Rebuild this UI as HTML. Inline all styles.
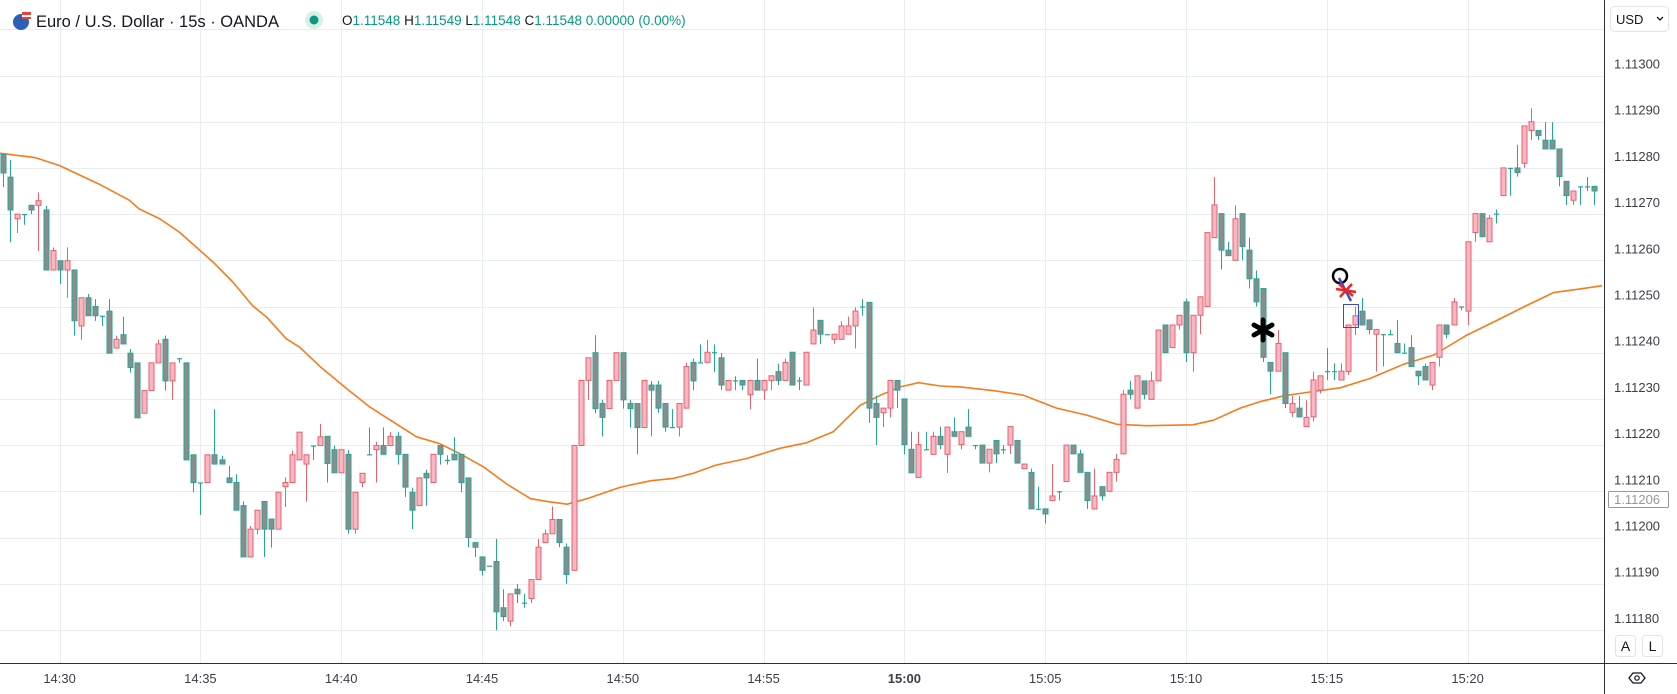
<!DOCTYPE html>
<html><head><meta charset="utf-8"><style>
html,body{margin:0;padding:0;background:#fff;overflow:hidden}
svg{display:block;font-family:"Liberation Sans",sans-serif}
</style></head><body>
<svg id="chart" width="1677" height="694" viewBox="0 0 1677 694" xmlns="http://www.w3.org/2000/svg">
<g id="grid"></g>
<g id="ma"></g>
<g id="candles"></g>
<g id="marks">
  <circle cx="1340" cy="276" r="7" fill="none" stroke="#000" stroke-width="2.5"/>
  <line x1="1339" y1="278" x2="1351" y2="301" stroke="#3f4bc4" stroke-width="2.5"/>
  <g stroke="#e8262c" stroke-width="2.5"><line x1="1339" y1="284" x2="1353" y2="296"/><line x1="1352" y1="284" x2="1340" y2="297"/><line x1="1336" y1="289" x2="1356" y2="292"/></g>
  <rect x="1343.5" y="304.5" width="15" height="23" fill="none" stroke="#3f4bc4" stroke-width="1"/>
  <g stroke="#000" stroke-width="5" stroke-linecap="round"><line x1="1263" y1="320" x2="1263" y2="340"/><line x1="1254" y1="325" x2="1272" y2="335"/><line x1="1272" y1="325" x2="1254" y2="335"/></g>
</g>
<g id="axes"></g>
<g>
  <circle cx="21" cy="22" r="8" fill="#2c5fb8"/>
  <rect x="22" y="12" width="9" height="3" fill="#e8403a"/><rect x="22" y="15" width="9" height="2" fill="#fff"/><rect x="22" y="17" width="9" height="2" fill="#e8403a"/>
  <text x="36" y="27" font-size="16.5" fill="#131722">Euro / U.S. Dollar · 15s · OANDA</text>
  <circle cx="314" cy="20" r="9" fill="#d9f0ea"/>
  <circle cx="314" cy="20" r="4.5" fill="#089981"/>
  <text x="342" y="25" font-size="13.5" fill="#089981"><tspan fill="#131722">O</tspan>1.11548 <tspan fill="#131722">H</tspan>1.11549 <tspan fill="#131722">L</tspan>1.11548 <tspan fill="#131722">C</tspan>1.11548 0.00000 (0.00%)</text>
</g>
</svg>
<script>
// prices in points (1e-5) above 1.11000; bars every 15s, bar index 0 = 14:30:00
const firstIndex = -8;
const opens = [282.9,278.0,269.0,270,271.9,271.9,270.9,257.9,259.9,257.9,257.9,245.8,251.9,250.0,248,249.0,241,243.9,239.9,237.8,226.9,231.8,237.8,242.9,233.9,238.8,237.8,217.9,211.9,211.9,217.9,216.8,212.9,211.9,206.9,195.8,201.8,207.8,204,201.8,211.0,211.9,216.8,215.9,219.9,219.9,221.9,219.0,214,218.0,201.8,211.9,218,219.0,219.9,219.9,221.9,218.0,209.8,206.9,213.9,211.9,219.9,216.8,218.0,218.0,212.9,198.9,195.8,193.9,194.8,184.8,181.9,188.8,185.9,186.8,190.9,198.9,200.8,203.9,197.9,192.9,219.9,234.0,240.0,229.0,227.9,234.0,240.0,229.0,229.0,223.8,233.0,233.0,229.0,223.9,223.9,228.0,237.9,237.9,237.9,240.1,238.9,231.9,234.0,234.0,230.9,234.0,231.9,234.0,235.9,234.0,240.1,234.0,233.0,241.9,247.0,244,242.9,242.9,244.0,245.8,250,250.9,229.0,227.0,228.0,234.0,230.0,219.1,213.0,219.1,218.0,221.9,218.0,222.9,220.1,223.9,220.0,220.0,216.1,221.0,219.1,220.0,221.0,214.9,214.1,206.2,206.2,208.0,210.0,212.1,220.0,218.1,214.1,206.2,211.0,210.0,214.1,218.1,231.9,228.0,233.9,229.9,233.9,246.0,241.1,246.0,251.0,240.0,248.1,250.0,264.9,270.1,262.2,260.0,270.1,262.2,256.0,253.9,237.9,236.0,240.0,227.1,228.0,224.0,226.1,231.9,236,236,234.1,235.9,246.0,249.0,247.1,244.0,244,244,242.0,240,241.1,236.0,237.0,233.0,239.0,246.0,246.0,250,249.0,266.0,270.1,264.0,270.1,274.0,280,280.0,281.0,288.1,288.1,286.0,286.0,284.1,277.1,273.0,276,276,276.0];
const highs = [283,281.7,270,270,272,274.7,271.8,262.8,259.9,262.8,257.9,251.9,252.7,251.6,248,251.6,243.7,247.8,240.8,237.8,231.8,237.8,242.8,243.7,237.8,238.8,237.8,217.9,211.9,217.9,227.8,217.7,215.5,213.7,207.8,202.5,206,207.8,204,209.8,213,218.8,222.8,217.9,219.9,224.6,221.9,219.9,219,218.9,209.8,213.9,223.8,220.7,223.8,222.8,222.8,218,210.8,212.9,214.7,218,219.9,217.8,221.7,218,212.9,198.9,195.8,193.9,199.7,188.8,187.8,189.9,187.8,190.9,199.7,201.7,206.7,203.9,198.7,219.9,234,238.9,243.8,229.8,234,240,240,229.8,229,234,233.9,233.9,229,227.8,229,237.8,238.7,241.8,242.8,241.8,239.9,234,234.9,234,234,238.7,234,235,237.6,238.7,240.1,234.7,240.1,249.8,247,244,244,246.8,247.8,249.8,251.6,250.9,230.7,228,234,234,230,222.9,222.9,222.9,222.9,224.0,223.9,226.0,222.9,227.8,220,220,219.1,221,220.0,224,221,215.9,214.9,211.0,206.2,215.9,210,220,220,219,214.1,214.9,211,214.1,218.1,231.9,233.9,235,233.9,235.9,244.9,246,246,248.1,251.7,248.1,252.1,266,278.0,270.1,264.0,271.9,270.1,264.9,257.8,253.9,237.9,244.9,240,230.6,230.6,229.7,235.9,235,241,237.7,237.7,246,250.0,251.8,247.1,245,244,245.0,247.1,242.0,243.8,236,237.7,237.9,246,246,251.8,250,264,270.1,270.1,269.8,271.0,280,280,285.0,289.1,292.9,288.1,289.9,289.9,284.1,277.1,275,276,278,276];
const lows = [275.8,263.9,265.9,267.7,270,262.0,257.9,257.9,254.9,251.9,243.7,242.8,248,246.9,245.8,239.9,241,241.9,235.7,225.9,226.9,231.8,237.8,231.8,229.8,237.8,216.8,209.8,204.9,211.9,215.9,215.9,211.9,205.9,195.8,195.8,200.7,195.8,197.8,201.8,206.6,211.9,216.8,207.8,216.8,219.9,211.9,214,214,200.8,200.8,210.9,218,211.9,218,219.9,215.8,208.8,201.8,206.9,206.9,211.9,215.8,215.8,216.8,209.8,197.9,195.8,191.8,193.9,179.9,181.9,180.8,185.8,184.8,185.8,190.9,198.9,200.8,197.9,190.0,192.9,219.9,229.8,226.9,221.9,227.9,234,227.9,223.8,218.0,223.8,221.9,227.0,222.9,223.9,221.9,228,231.9,237.9,237.9,235.8,231.9,231.9,231.9,231.9,227.8,231.9,229.8,231.9,233.0,234,233,231.9,233,241.9,241.9,244,241.9,242.9,244,240.9,248,224.8,220.0,223.9,226.0,228.0,218.0,214,213,219.1,218,219.1,214.0,221.9,219.1,221.9,219.1,216.1,214.1,216.1,218.1,218.1,216.1,214.9,206.2,206.2,203.0,208,208.0,212.1,218.1,214.1,206.2,206.2,208.0,210,212.1,218.1,229.9,228,229.9,229.9,233.9,240,241.1,245.0,238.0,235.9,244.0,250,264.9,258.0,261,260,260.0,253.9,250.0,238,231.0,236,228.0,226.1,226.1,224,225.1,231.2,234.1,234.1,234.1,235.2,243.8,246,244.0,235.9,237.0,244,240,240,237,233.0,234.1,231.9,237.0,243.1,246,249.2,246.0,264.0,265.1,264,268.0,274,274,278.1,280.0,286.0,286.0,284.1,284.1,276,272.0,272.0,272,275,272.0];
const closes = [278.9,270.9,270.0,270,270.9,272.9,257.9,262.1,257.9,259.9,246.9,251.9,248.0,248.0,248,239.9,242.9,241.9,236.8,225.9,231.8,237.8,241.9,233.9,237.8,238.8,216.8,211.9,211.9,217.9,215.9,215.9,211.9,205.9,195.8,201.8,205.9,201.8,201.8,209.8,211.9,217.9,222.8,217.9,219.9,221.8,216.0,214,219.0,201.8,209.8,213.9,218,219.9,218.0,221.9,218.0,210.9,205.9,212.9,212.9,218.0,218.0,216.8,216.8,211.9,200.0,197.9,192.9,193.9,183.9,182.9,187.8,187.8,185.9,190.9,197.9,200.8,203.9,198.9,192.0,219.9,234.0,238.9,227.9,226.0,234.0,240.0,229.8,227.9,223.8,234.0,231.9,228.0,223.9,223.9,229.0,237.0,233.9,237.9,240.1,240.1,233.0,234.0,234.0,233.0,234.0,231.9,234.0,235.0,234.0,237.9,233.0,234.0,240.1,244.9,244.0,244,244.0,245.8,245.8,249.0,250,228.0,226.0,228.0,234.0,231.9,220.1,214.0,220.1,219.1,221.9,220.1,223.9,221.9,222.9,221.9,220.0,216.1,219.1,218.1,219.1,224.0,216.1,215.9,206.2,206.2,205.1,209.0,210.0,220.0,218.1,214.1,208.0,209.0,209.0,214.1,216.9,231.0,231.0,235.0,231.0,233.9,244.9,240.0,246.0,248.1,240.0,248.1,252.1,266.0,272.0,262.2,261.0,269.0,263.0,256.0,251.0,239.0,236.0,242.0,229.0,229.0,226.1,226.0,234.1,235.0,236,236,236.0,246.0,248.0,246.0,245.0,245.0,244,244,240.0,240,237.0,235.0,234.1,237.9,246.0,244.0,251.0,250,264.0,270.1,265.1,269.1,270.1,280.0,280,279.0,289.1,290.0,287.0,284.1,284.1,278.1,274.0,275.0,276,276,275.0];
// moving average samples: bar index and value (points above 1.11000)
const maIndex = [-8.6,-3.4,0,5.6,9.9,11.3,14.2,17,21.8,24.6,27.4,29.4,32.2,34.1,37,40.8,44.1,47,50.7,54,56.9,60.2,63.5,66.9,69.7,72.1,74.9,79.7,84,87.2,90,93.3,97.6,102.3,106.1,109.9,113.7,116.6,119.4,122,125.1,127.9,132.6,136.9,141.6,145.9,150.2,154.4,161,163.9,167.7,170.5,174,178.1,181.9,186.1,190.9,195.2,199.9,204.7,208.5,212.2,216,219.1];
const maValue = [283.2,282.2,280.5,276.5,273,271.1,269,266.1,259.6,255.3,250.2,247.7,243,241.2,237,232.2,228.2,225.4,221.8,220.3,218.1,215.3,211.6,208.4,207.7,207.2,208.4,210.9,212.3,212.8,213.9,215.7,217.1,219.3,220.5,222.9,228.6,230.8,232.6,233.5,232.8,232.6,231.8,230.8,228,226.5,224.5,224.2,224.4,225.4,228,229.4,230.7,231.6,232.4,234.4,237.5,239.5,243.8,247.4,250.3,253,253.8,254.5];
const priceTicks = [180,190,200,210,220,230,240,250,260,270,280,290,300];
const timeTickIndex = [0,20,40,60,80,100,120,140,160,180,200];
const timeTickLabels = ["14:30","14:35","14:40","14:45","14:50","14:55","15:00","15:05","15:10","15:15","15:20"];
const currentPriceLabel = 206;

const NS = "http://www.w3.org/2000/svg";
const X0 = 59.6, BAR = 7.04, PLOT_R = 1604, PLOT_B = 663;
function xScale(i){ return X0 + i*BAR; }
function yScale(v){ return 121.7 + (290 - v)*4.62; }
function mk(tag, attrs, parent){ const e=document.createElementNS(NS,tag); for(const k in attrs) e.setAttribute(k, attrs[k]); parent.appendChild(e); return e; }
function fmt(v){ return (1.11 + v/1e5).toFixed(5); }

const grid = document.getElementById('grid');
for (let v=180; v<=310; v+=10){
  const y = Math.round(yScale(v))+0.5;
  const l = mk('line',{x1:0,x2:PLOT_R,y1:y,y2:y,stroke:'#e8edf3','stroke-width':1},grid);
  
  
}
timeTickIndex.forEach(i=>{
  const x = Math.round(xScale(i))+0.5;
  const l = mk('line',{x1:x,x2:x,y1:0,y2:PLOT_B,stroke:'#e8edf3','stroke-width':1},grid);
  
  
});

// MA
const maG = document.getElementById('ma');
let pts = maIndex.map((k,j)=> xScale(k).toFixed(1)+','+yScale(maValue[j]).toFixed(1)).join(' ');
const maLine = mk('polyline',{points:pts,fill:'none',stroke:'#f57c1f','stroke-width':1.6,'stroke-linejoin':'round'},maG);



// candles
const cg = document.getElementById('candles');
opens.forEach((o,j)=>{
  const c = closes[j], h = Math.max(highs[j],o,c), lo = Math.min(lows[j],o,c);
  const up = c > o;
  const stroke = up ? '#e8616c' : '#26a69a';
  const fill = up ? '#f8b7c3' : '#8c8c8c';
  const x = Math.round(xScale(firstIndex + j));
  const g = mk('g',{},cg);
  
  
  mk('line',{x1:x+0.5,x2:x+0.5,y1:yScale(h),y2:yScale(lo),stroke:stroke,'stroke-width':1},g);
  const yt = yScale(Math.max(o,c)), yb = yScale(Math.min(o,c));
  if (yb - yt < 1.2) {
    mk('line',{x1:x-2,x2:x+3,y1:yt+0.5,y2:yt+0.5,stroke:stroke,'stroke-width':1.2},g);
  } else {
    mk('rect',{x:x-2,y:yt,width:5,height:yb-yt,fill:fill,stroke:stroke,'stroke-width':1},g);
  }
});

// axes
const ax = document.getElementById('axes');
mk('rect',{x:PLOT_R,y:0,width:1677-PLOT_R,height:694,fill:'#fff'},ax);
mk('rect',{x:0,y:PLOT_B,width:1677,height:694-PLOT_B,fill:'#fff'},ax);
mk('line',{x1:PLOT_R+0.5,x2:PLOT_R+0.5,y1:0,y2:694,stroke:'#2a2e39','stroke-width':1},ax);
mk('line',{x1:0,x2:1677,y1:PLOT_B+0.5,y2:PLOT_B+0.5,stroke:'#2a2e39','stroke-width':1},ax);
priceTicks.forEach(v=>{
  const t = mk('text',{x:1614,y:yScale(v)-7,'font-size':13,fill:'#3b3f4a'},ax);
  t.textContent = fmt(v);
  
  
});
timeTickIndex.forEach((i,j)=>{
  const t = mk('text',{x:xScale(i),y:683,'font-size':13,fill:'#3b3f4a','text-anchor':'middle','font-weight': timeTickLabels[j]==='15:00'?'bold':'normal'},ax);
  t.textContent = timeTickLabels[j];
  
  
});
// current price box
const cp = mk('rect',{x:1608.5,y:491.5,width:60,height:16,fill:'#fff',stroke:'#9598a1','stroke-width':1,rx:1},ax);


const cpt = mk('text',{x:1614,y:504,'font-size':13,fill:'#9598a1'},ax);
cpt.textContent = fmt(currentPriceLabel);


// USD button
const ub = mk('rect',{x:1610.5,y:6.5,width:58,height:25,fill:'#fff',stroke:'#e0e3eb','stroke-width':1,rx:4},ax);


const ut = mk('text',{x:1616,y:24,'font-size':13,fill:'#131722'},ax);
ut.textContent = 'USD';


mk('path',{d:'M1657 17 l3 3 l3 -3',fill:'none',stroke:'#131722','stroke-width':1.3},ax);
// A / L buttons
[['A',1615],['L',1642]].forEach(([s,x])=>{
  const b = mk('rect',{x:x+0.5,y:635.5,width:20,height:21,fill:'#fff',stroke:'#e0e3eb','stroke-width':1,rx:3},ax);
  
  
  const t = mk('text',{x:x+10.5,y:651,'font-size':14,fill:'#131722','text-anchor':'middle'},ax);
  t.textContent = s;
  
  
});
// settings icon
const si = mk('path',{d:'M1629 678 l4 -5 h8 l4 5 l-4 5 h-8 z',fill:'none',stroke:'#131722','stroke-width':1.3},ax);


mk('circle',{cx:1637,cy:678,r:2.2,fill:'none',stroke:'#131722','stroke-width':1.2},ax);
</script>
</body></html>
